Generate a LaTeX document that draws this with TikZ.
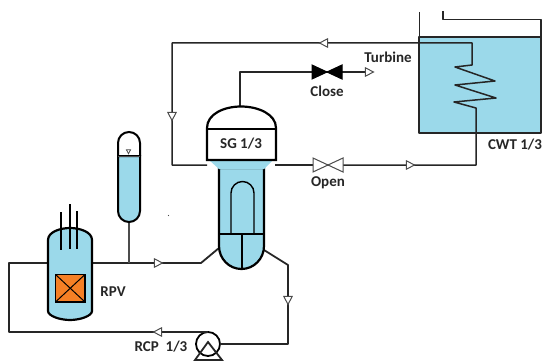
\documentclass[tikz,border=0pt]{standalone}
\usepackage{fontspec}
\setmainfont{Carlito}
\usetikzlibrary{shapes.geometric}
\definecolor{water}{HTML}{9BD9EA}
\definecolor{core}{HTML}{F58025}
\tikzset{
  pipe/.style = {draw=black!85, line width=1.8pt, line join=round},
  thinpipe/.style = {draw=black!85, line width=1.5pt, line join=round},
  vessel/.style = {draw=black, line width=2.2pt, fill=water},
  label/.style = {font=\bfseries\fontsize{15}{17}\selectfont, text=black!85, inner sep=0pt},
  flow/.style = {isosceles triangle, isosceles triangle apex angle=55, draw=black!70, fill=white,
                 line width=1pt, minimum size=8pt, inner sep=0pt, shape border rotate=#1},
  flow/.default = 0
}
\begin{document}
\begin{tikzpicture}[x=1pt,y=-1pt]
	\useasboundingbox (0,0) rectangle (544,361);

	% Tank
	\fill[water] (419,37) rectangle (541,133);
	\draw[pipe] (419,133) rectangle (541,37);
	\draw[pipe] (419.5,12) -- (419.5,37);
	\draw[pipe] (443,11) -- (443,19.5) -- (541,19.5) -- (541,37);

	% Secondary side
	\coordinate (sgleft) at (207,165);
	\coordinate (sgright) at (275,165);
	\coordinate (sgtop) at (240,106);
	\node[minimum size=0pt, inner sep=0pt] (open) at (328,165) {};
	\node[minimum size=0pt, inner sep=0pt] (close) at (327,72) {};
	\coordinate (steamend) at (372,72);
	\draw[thinpipe] (sgleft) -- (172,165) -- (172,43) -- (472,43) -- (472,65)
		-- (455,67) -- (495,81) -- (455,85) -- (496,98) -- (454,102) -- (476,108)
		-- (476,165) -- (open);
	\draw[thinpipe] (sgright) -- (open);
	\draw[thinpipe] (sgtop) -- (240,72) -- (close) -- (steamend);

	% Valves
	\draw[line width=1pt, draw=black!70, fill=white] (313,158) -- (343,172) -- (343,158) -- (313,172) -- cycle;
	\draw[line width=1pt, fill=black] (312,65) -- (342,79) -- (342,65) -- (312,79) -- cycle;

	% Primary loop
	\node[circle, draw=black, line width=1.8pt, fill=white, minimum size=24pt, inner sep=0pt, outer sep=0pt] (rcp) at (208,344) {};
	\coordinate (hotrpv) at (92,263);
	\coordinate (coldrpv) at (48,263);
	\draw[pipe] (hotrpv) -- (201,263) -- (219,248);
	\draw[pipe] (264,250) -- (288,265) -- (288,344) -- (rcp.east);
	\draw[pipe] (rcp.north) -- (9,332) -- (9,263) -- (coldrpv);
	\draw[pipe, line join=miter] (195,360) -- (208,342) -- (222,360) -- cycle;

	% Steam generator
	\draw[vessel] (219,168) -- (219,246) arc[start angle=180, end angle=0, x radius=22.5, y radius=23] -- (264,168) -- cycle;
	\fill[water] (209,160) -- (273,160) -- (264,169) -- (219,169) -- cycle;
	\draw[line width=2.2pt, fill=white] (207,160) -- (207,128) .. controls (207,114) and (224,106.5) .. (241,106.5)
		.. controls (258,106.5) and (276,114) .. (276,128) -- (276,160) -- cycle;
	\draw[line width=1.6pt] (207,129) -- (276,129);
	\draw[line width=1.6pt] (219,234) -- (264,234);
	\draw[line width=1.6pt] (242,234) -- (242,269);
	\draw[line width=1.4pt] (231,234) -- (231,193) arc[start angle=180, end angle=360, radius=11.5] -- (254,234);

	% Pressurizer
	\draw[thinpipe, draw=black!70] (129,222) -- (129,263);
	\draw[line width=2pt, fill=water] (118,156) -- (118,211) arc[start angle=180, end angle=0, radius=11] -- (140,156) -- cycle;
	\draw[line width=2pt] (118,156) -- (118,143) arc[start angle=180, end angle=360, radius=11] -- (140,156);
	\draw[line width=1pt, draw=black!70] (118,156) -- (140,156);
	\node[flow=270, line width=0.8pt, minimum size=4pt] (level) at (128.5,151) {};

	% RPV
	\draw[vessel] (48,240) .. controls (48,232) and (60,228) .. (70,228) .. controls (80,228) and (92,232) .. (92,240)
		-- (92,311) .. controls (92,316) and (80,320) .. (70,320) .. controls (60,320) and (48,316) .. (48,311) -- cycle;
	\draw[line width=1.8pt] (61,212) -- (61,250);
	\draw[line width=1.8pt] (70,204) -- (70,249);
	\draw[line width=1.8pt] (77,211) -- (77,249);
	\draw[line width=1.8pt, fill=core] (55.5,274.5) rectangle (85,302);
	\draw[line width=1pt] (55.5,274.5) -- (85,302);
	\draw[line width=1pt] (85,274.5) -- (55.5,302);

	% Arrows
	\node[flow=180] (a1) at (325,43) {};
	\node[flow=270] (a2) at (172,115) {};
	\node[flow=0] (a3) at (368,72) {};
	\node[flow=0] (a4) at (409,165) {};
	\node[flow=0] (a5) at (157,263) {};
	\node[flow=270] (a6) at (288,299) {};
	\node[flow=180] (a7) at (159,332) {};

	% Labels
	\node[label] (turbine) at (388,57) {Turbine};
	\node[label] (closelabel) at (327,91) {Close};
	\node[label] (openlabel) at (328,183) {Open};
	\node[label] (sglabel) at (241,144) {SG 1/3};
	\node[label] (cwtlabel) at (515,145) {CWT 1/3};
	\node[label] (rpvlabel) at (113,292) {RPV};
	\node[label] (rcplabel) at (161,347) {RCP\ \ 1/3};

	\fill[black!70] (168.5,215.5) circle (0.7);
\end{tikzpicture}
\end{document}
